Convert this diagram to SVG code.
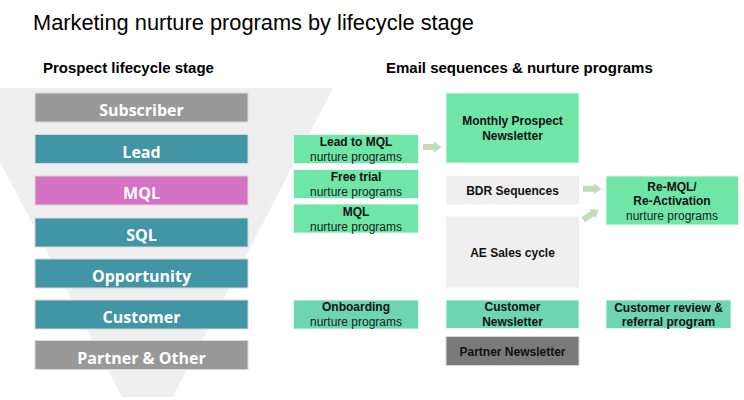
<svg xmlns="http://www.w3.org/2000/svg" width="744" height="400" viewBox="0 0 744 400">
<style>
.stage{stroke:#d9d9d9;stroke-width:1}
.stxt{font-family:"Open Sans","DejaVu Sans",sans-serif;font-weight:700;font-size:16px;fill:#ffffff;text-anchor:middle}
.g1{fill:#6fe5a8;stroke:#e6f8ee;stroke-width:1}
.g2{fill:#6dd5b1;stroke:#e6f8ee;stroke-width:1}
.lg{fill:#efefef}
.b{font-family:"Liberation Sans",Arial,sans-serif;font-weight:700;font-size:12px;fill:#111;text-anchor:middle}
.r{font-family:"Liberation Sans",Arial,sans-serif;font-size:12px;fill:#222;text-anchor:middle}
.hdr{font-family:"Liberation Sans",Arial,sans-serif;font-weight:700;font-size:15px;fill:#000}
.arr{fill:#c5dab7}
</style>
<rect width="744" height="400" fill="#ffffff"/>
<polygon points="-38,88 333,88 173,397 122,397" fill="#efefef"/>
<text x="33" y="30" font-family="Liberation Sans, Arial, sans-serif" font-size="21.8" fill="#000">Marketing nurture programs by lifecycle stage</text>
<text class="hdr" x="43" y="73">Prospect lifecycle stage</text>
<text class="hdr" x="386" y="73">Email sequences &amp; nurture programs</text>

<g id="subscriber"><rect class="stage" x="35" y="93" width="213" height="29" fill="#999999"/><text class="stxt" x="141.5" y="116">Subscriber</text></g>
<g id="lead"><rect class="stage" x="35" y="134.5" width="213" height="29" fill="#4195a5"/><text class="stxt" x="141.5" y="157.5">Lead</text></g>
<g id="mql"><rect class="stage" x="35" y="176" width="213" height="29" fill="#d672c4"/><text class="stxt" x="141.5" y="199">MQL</text></g>
<g id="sql"><rect class="stage" x="35" y="218" width="213" height="29" fill="#4195a5"/><text class="stxt" x="141.5" y="241">SQL</text></g>
<g id="opportunity"><rect class="stage" x="35" y="259" width="213" height="29" fill="#4195a5"/><text class="stxt" x="141.5" y="282">Opportunity</text></g>
<g id="customer"><rect class="stage" x="35" y="300" width="213" height="29" fill="#4195a5"/><text class="stxt" x="141.5" y="323">Customer</text></g>
<g id="partner"><rect class="stage" x="35" y="340.5" width="213" height="29" fill="#999999"/><text class="stxt" x="141.5" y="363.5">Partner &amp; Other</text></g>

<g id="lead-to-mql"><rect class="g1" x="293.5" y="134.5" width="125" height="29"/><text class="b" x="356" y="146">Lead to MQL</text><text class="r" x="356" y="161">nurture programs</text></g>
<g id="free-trial"><rect class="g1" x="293.5" y="169.5" width="125" height="29"/><text class="b" x="356" y="181">Free trial</text><text class="r" x="356" y="196">nurture programs</text></g>
<g id="mql-nurture"><rect class="g1" x="293.5" y="204" width="125" height="29"/><text class="b" x="356" y="216">MQL</text><text class="r" x="356" y="231">nurture programs</text></g>
<g id="onboarding"><rect class="g2" x="293.5" y="300" width="125" height="29"/><text class="b" x="356" y="311">Onboarding</text><text class="r" x="356" y="326">nurture programs</text></g>

<g id="monthly-prospect"><rect class="g1" x="446" y="93" width="133" height="70"/><text class="b" x="512.5" y="125">Monthly Prospect</text><text class="b" x="512.5" y="139.5">Newsletter</text></g>
<g id="bdr"><rect class="lg" x="446" y="176" width="133" height="28.5"/><text class="b" x="512.5" y="194.5">BDR Sequences</text></g>
<g id="ae-sales"><rect class="lg" x="446" y="216.5" width="133" height="71"/><text class="b" x="512.5" y="257">AE Sales cycle</text></g>
<g id="customer-newsletter"><rect class="g2" x="446" y="300" width="133" height="28.5"/><text class="b" x="512.5" y="311">Customer</text><text class="b" x="512.5" y="325.5">Newsletter</text></g>
<g id="partner-newsletter"><rect x="446" y="336.5" width="133" height="29" fill="#7a7a7a" stroke="#d9d9d9" stroke-width="1"/><text class="b" x="512.5" y="355.5">Partner Newsletter</text></g>

<g id="re-mql"><rect class="g1" x="606" y="176" width="132.5" height="49"/><text class="b" x="672" y="190.5">Re-MQL/</text><text class="b" x="672" y="205">Re-Activation</text><text class="r" x="672" y="219.5">nurture programs</text></g>
<g id="customer-review"><rect class="g2" x="606" y="300" width="125" height="28.5"/><text class="b" x="668.5" y="311.5">Customer review &amp;</text><text class="b" x="668.5" y="326">referral program</text></g>

<g id="connectors">
<polygon class="arr" points="423,144 434,144 434,141.5 441.5,147 434,152.5 434,150 423,150"/>
<polygon class="arr" points="583,185.8 594,185.8 594,183.3 601.5,188.8 594,194.3 594,191.8 583,191.8"/>
<polygon class="arr" transform="rotate(-33 592 214)" points="581.5,211 592.5,211 592.5,208.5 600,214 592.5,219.5 592.5,217 581.5,217"/>
</g>
</svg>
